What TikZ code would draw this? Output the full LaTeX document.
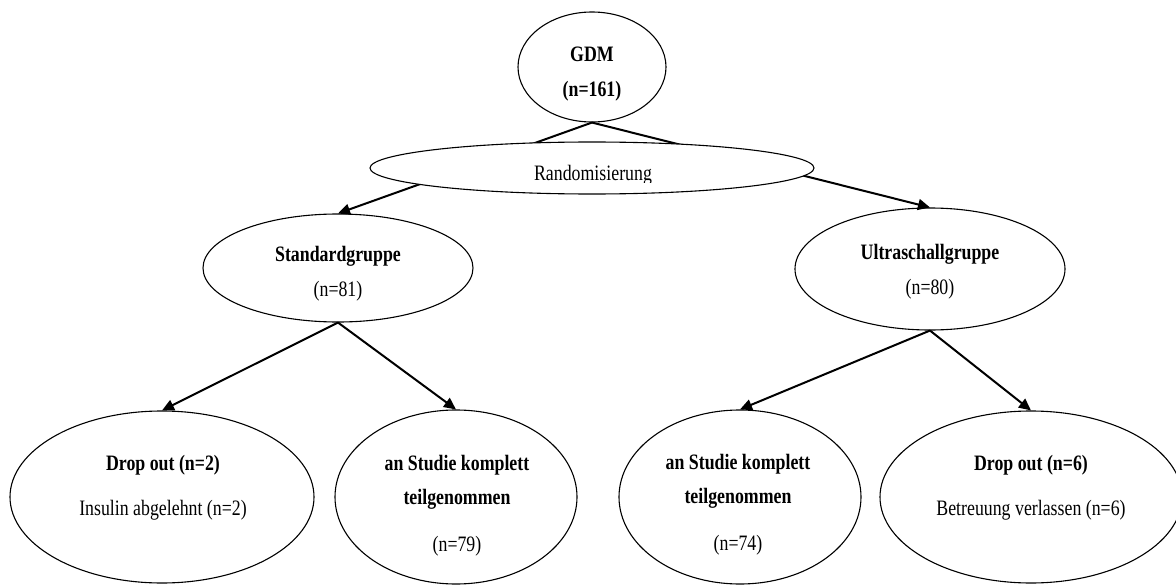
\documentclass[tikz,border=0pt]{standalone}
\usepackage{fontspec}
\setmainfont{Liberation Serif}[FakeStretch=0.81]
\usetikzlibrary{shapes.geometric,arrows.meta}
\tikzset{
  oval/.style={ellipse, draw, line width=1.1pt, fill=white, inner sep=0pt},
  txt/.style={font=\fontsize{22}{26}\selectfont, align=center, inner sep=0pt},
  conn/.style={line width=2pt, -{Triangle[length=12pt,width=11pt]}}
}
\begin{document}
\begin{tikzpicture}[x=1pt,y=-1pt]
\useasboundingbox (0,0) rectangle (1176,586);
\node[oval, minimum width=148pt, minimum height=110pt] (gdm) at (592,67) {};
\node[oval, minimum width=270pt, minimum height=108pt] (std) at (338,268) {};
\node[oval, minimum width=270pt, minimum height=122pt] (us) at (930,269) {};
\node[oval, minimum width=304pt, minimum height=172pt] (drop1) at (162,497) {};
\node[oval, minimum width=242pt, minimum height=174pt] (stud1) at (456,497) {};
\node[oval, minimum width=242pt, minimum height=174pt] (stud2) at (740,497) {};
\node[oval, minimum width=302pt, minimum height=172pt] (drop2) at (1031,497) {};
\draw[conn] (gdm.south) -- (std.north);
\draw[conn] (gdm.south) -- (us.north);
\draw[conn] (std.south) -- (drop1.north);
\draw[conn] (std.south) -- (stud1.north);
\draw[conn] (us.south) -- (stud2.north);
\draw[conn] (us.south) -- (drop2.north);
\node[oval, minimum width=444pt, minimum height=52pt] (rand) at (592,168) {};
\node[txt] (gdmtxt) at (592,74) {\textbf{GDM}\\[9pt]\textbf{(n=161)}};
\begin{scope}
\clip (360,140) rectangle (830,182);
\node[txt] (randtxt) at (593,175) {Randomisierung};
\end{scope}
\node[txt] (stdtxt) at (338,274) {\textbf{Standardgruppe}\\[9pt](n=81)};
\node[txt] (ustxt) at (930,272) {\textbf{Ultraschallgruppe}\\[9pt](n=80)};
\node[txt] (drop1txt) at (163,488) {\textbf{Drop out (n=2)}\\[19pt]Insulin abgelehnt (n=2)};
\node[txt] (stud1txt) at (457,506) {\textbf{an Studie komplett}\\[8pt]\textbf{teilgenommen}\\[21pt](n=79)};
\node[txt] (stud2txt) at (738,505) {\textbf{an Studie komplett}\\[8pt]\textbf{teilgenommen}\\[21pt](n=74)};
\node[txt] (drop2txt) at (1031,488) {\textbf{Drop out (n=6)}\\[19pt]Betreuung verlassen (n=6)};
\end{tikzpicture}
\end{document}
